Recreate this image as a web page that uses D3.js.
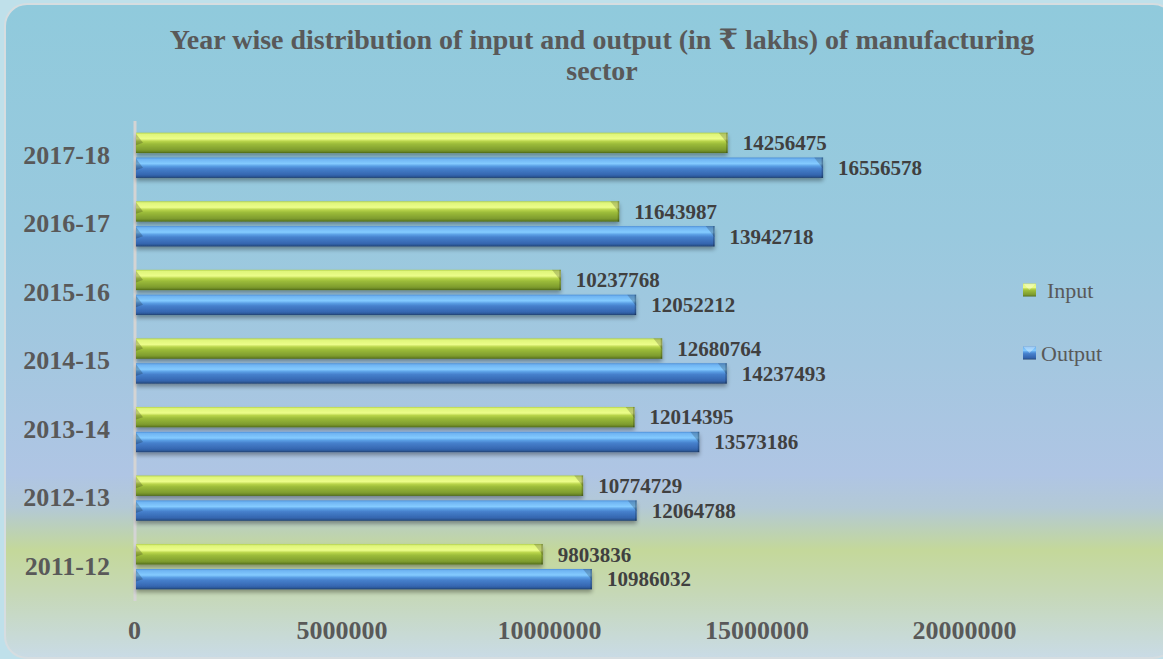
<!DOCTYPE html>
<html>
<head>
<meta charset="utf-8">
<script src="https://cdn.jsdelivr.net/npm/d3@7/dist/d3.min.js"></script>
<style>
  html, body { margin: 0; padding: 0; background: #bfe0ea; overflow: hidden; }
  svg { display: block; }
  text { font-family: "Liberation Serif", "Times New Roman", "DejaVu Serif", serif; }
</style>
</head>
<body>
<svg id="chart" width="1163" height="659"></svg>
<script>
// Manufacturing sector, year-wise input and output (₹ lakhs)
const years = ["2017-18", "2016-17", "2015-16", "2014-15", "2013-14", "2012-13", "2011-12"];
const inputValues = [14256475, 11643987, 10237768, 12680764, 12014395, 10774729, 9803836];
const outputValues = [16556578, 13942718, 12052212, 14237493, 13573186, 12064788, 10986032];
const seriesNames = ["Input", "Output"];
const xTicks = [0, 5000000, 10000000, 15000000, 20000000];
const titleLines = ["Year wise distribution of input and output (in ₹ lakhs) of manufacturing", "sector"];

const W = 1163, H = 659;
const svg = d3.select("#chart");
const defs = svg.append("defs");

// Chart-area background gradient
const bg = defs.append("linearGradient").attr("id", "bgGrad")
  .attr("x1", 0).attr("y1", 0).attr("x2", 0).attr("y2", 1);
[[0, "#90cadc"], [0.35, "#99c9de"], [0.55, "#a4c7e0"], [0.72, "#afc5e4"],
 [0.77, "#b3c9d6"], [0.835, "#c4d89a"], [0.9, "#c6d8b6"], [1, "#c9dbe6"]]
  .forEach(([o, c]) => bg.append("stop").attr("offset", o).attr("stop-color", c));

// Bar shading gradients (bevelled look)
function barGradient(id, stops) {
  const g = defs.append("linearGradient").attr("id", id)
    .attr("x1", 0).attr("y1", 0).attr("x2", 0).attr("y2", 1);
  stops.forEach(([o, c]) => g.append("stop").attr("offset", o).attr("stop-color", c));
}
barGradient("gInput", [[0, "#b4d24a"], [0.08, "#dff57a"], [0.3, "#ecfd8a"], [0.42, "#b8d44a"],
  [0.55, "#9cbc3a"], [0.85, "#7e9c2e"], [0.93, "#6a8626"], [1, "#4e6818"]]);
barGradient("gOutput", [[0, "#4c8fd8"], [0.08, "#6fb4f2"], [0.3, "#84cbff"], [0.42, "#5a9ee4"],
  [0.55, "#4680cc"], [0.85, "#3566b0"], [0.93, "#2c5898"], [1, "#213f6c"]]);

// Soft shadow beneath the bars
const sh = defs.append("filter").attr("id", "shadow")
  .attr("x", "-5%").attr("y", "-40%").attr("width", "110%").attr("height", "200%");
sh.append("feGaussianBlur").attr("in", "SourceAlpha").attr("stdDeviation", 2).attr("result", "b");
sh.append("feOffset").attr("in", "b").attr("dx", 0).attr("dy", 3).attr("result", "o");
sh.append("feComponentTransfer").attr("in", "o").attr("result", "s")
  .append("feFuncA").attr("type", "linear").attr("slope", 0.35);
const m = sh.append("feMerge");
m.append("feMergeNode").attr("in", "s");
m.append("feMergeNode").attr("in", "SourceGraphic");

// Frame
svg.append("rect").attr("x", 5).attr("y", 4).attr("width", 1170).attr("height", 654)
  .attr("rx", 22).attr("ry", 22)
  .attr("fill", "url(#bgGrad)").attr("stroke", "#d6dde0").attr("stroke-width", 2);

// Title
const title = svg.append("text").attr("text-anchor", "middle")
  .attr("font-weight", "bold").attr("font-size", 28).attr("fill", "#595959");
titleLines.forEach((t, i) => title.append("tspan").attr("x", 602).attr("y", 49 + i * 31).text(t));

// Scales
const x = d3.scaleLinear().domain([0, 20000000]).range([136, 966]);
const y = d3.scaleBand().domain(years).range([121, 601]).paddingInner(0.34).paddingOuter(0.17);
const ySub = d3.scaleBand().domain(seriesNames).range([0, y.bandwidth()]).paddingInner(0.18);

// X axis (labels only)
const xAxis = svg.append("g").attr("transform", "translate(0,615)")
  .call(d3.axisBottom(x).tickValues(xTicks).tickFormat(d3.format("d")).tickSize(0).tickPadding(0));
xAxis.select(".domain").remove();
xAxis.selectAll("text").attr("font-family", "Liberation Serif, serif")
  .attr("font-size", 26).attr("font-weight", "bold").attr("fill", "#595959")
  .attr("dy", "0.93em").attr("dx", -2);

// Y axis
const yAxis = svg.append("g").attr("transform", "translate(135,0)")
  .call(d3.axisLeft(y).tickSize(0).tickPadding(25));
yAxis.select(".domain").attr("stroke", "#d4d4d4").attr("stroke-width", 3)
  .attr("d", "M0,121V601");
yAxis.selectAll("text").attr("font-family", "Liberation Serif, serif")
  .attr("font-size", 26).attr("font-weight", "bold").attr("fill", "#595959");

// Bars
const rows = years.map((yr, i) => ({ year: yr, Input: inputValues[i], Output: outputValues[i] }));
const fills = { Input: "url(#gInput)", Output: "url(#gOutput)" };

const groups = svg.append("g").selectAll("g").data(rows).join("g")
  .attr("transform", d => `translate(0,${y(d.year)})`);

groups.each(function (d) {
  const g = d3.select(this);
  seriesNames.forEach(s => {
    const x0 = x(0), x1 = x(d[s]), y0 = ySub(s), h = ySub.bandwidth();
    const bar = g.append("g").attr("filter", "url(#shadow)");
    bar.append("rect").attr("x", x0).attr("y", y0).attr("width", x1 - x0).attr("height", h)
      .attr("fill", fills[s]);
    // left bevel face
    bar.append("path")
      .attr("d", `M${x0},${y0 + 1}L${x0 + 7},${y0 + h * 0.5}L${x0},${y0 + h * 0.62}Z`)
      .attr("fill", "#000").attr("opacity", 0.2);
    // right bevel face
    bar.append("path")
      .attr("d", `M${x1 - 9},${y0}L${x1},${y0}L${x1},${y0 + h * 0.55}Z`)
      .attr("fill", "#000").attr("opacity", 0.18);
    bar.append("rect").attr("x", x1 - 1.5).attr("y", y0).attr("width", 1.5).attr("height", h)
      .attr("fill", "#000").attr("opacity", 0.22);
    // value label
    g.append("text").attr("x", x1 + 15).attr("y", y0 + h / 2).attr("dy", "0.35em")
      .attr("font-size", 21).attr("font-weight", "bold").attr("fill", "#404040")
      .text(d[s]);
  });
});

// Legend
const legend = svg.append("g");
const legendItems = [
  { name: "Input", fill: fills.Input, y: 290, tx: 1047 },
  { name: "Output", fill: fills.Output, y: 353, tx: 1041 }
];
legendItems.forEach(it => {
  const g = legend.append("g");
  g.append("rect").attr("x", 1023).attr("y", it.y - 6.5).attr("width", 13).attr("height", 13)
    .attr("fill", it.fill);
  g.append("path")
    .attr("d", `M1023,${it.y - 6.5}L1036,${it.y - 6.5}L1029.5,${it.y}Z`)
    .attr("fill", "#fff").attr("opacity", 0.35);
  g.append("text").attr("x", it.tx).attr("y", it.y).attr("dy", "0.35em")
    .attr("font-size", 22).attr("fill", "#595959").text(it.name);
});
</script>
</body>
</html>
